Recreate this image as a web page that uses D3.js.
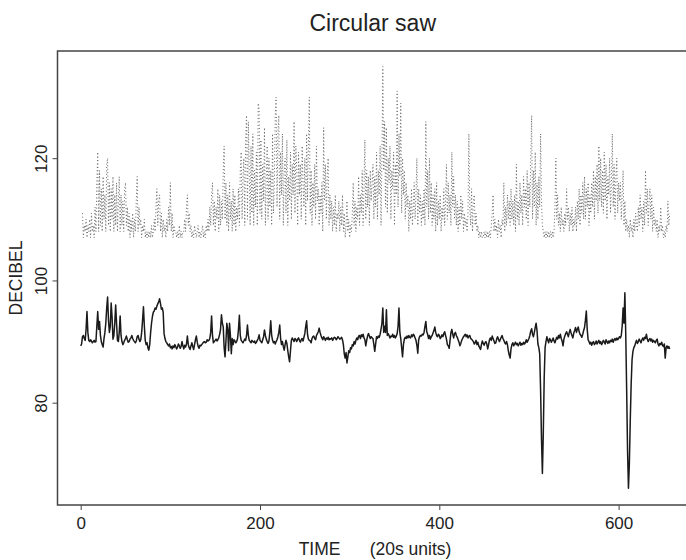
<!DOCTYPE html>
<html>
<head>
<meta charset="utf-8">
<script src="https://cdn.jsdelivr.net/npm/d3@7"></script>
<style>
  body { margin: 0; background: #fff; }
  text { font-family: "Liberation Sans", Arial, sans-serif; fill: #222; }
</style>
</head>
<body>
<div id="chart"></div>
<script>
var width = 686,
  height = 560;

// sound level of the circular saw, one value per time unit (20s)
var sawLevel = [
  89.3, 89.6, 90.8, 91, 90.5, 90.2, 92, 94.9, 91.5, 90.2, 90, 90.3, 90.1, 89.8, 90, 90.2, 89.9, 90, 92.5, 94.9,
  92, 93.3, 91, 90, 89.5, 89.1, 90.5, 91.5, 93, 95.5, 97.3, 93.5, 91.5, 92.5, 96.3, 94, 90.4, 91, 93, 96,
  93, 90.2, 90, 91.5, 94.2, 91, 90, 89.5, 89.8, 90.2, 90.5, 90.9, 90.3, 89.9, 90, 90.4, 90.6, 91, 90.5, 90.2,
  90, 89.8, 90.1, 90.8, 91, 90.4, 90, 90.3, 91.5, 93.5, 95.7, 92.5, 90.2, 89.5, 89.8, 89, 88.6, 89.5, 91.5, 93,
  94.1, 94.8, 95, 95.5, 95.3, 95.8, 96.2, 96.5, 97, 96.2, 95.3, 95.5, 94.8, 91.3, 90.5, 90, 89.8, 89.5, 89.3, 89.6,
  89, 89.2, 88.8, 89.3, 89, 89.5, 89.2, 88.8, 89.1, 89.6, 89.3, 88.9, 89.2, 90, 89.3, 88.8, 89.4, 89.1, 89.6, 90.9,
  89.5, 89, 88.7, 89.3, 89.8, 89.2, 88.7, 89.5, 90.3, 90.9, 89.9, 89.2, 88.9, 89.4, 89.3, 89.5, 89.7, 89.9, 90, 89.8,
  89.9, 90.3, 90.1, 90.2, 90.5, 91.5, 94.2, 91, 89.8, 90, 90.2, 90.4, 90.1, 90.3, 90.6, 91.2, 92, 94.4, 93, 92.4,
  89, 87.5, 90, 93, 92, 88.5, 93, 91, 88, 90.5, 89.5, 90.3, 90.1, 89.8, 90, 90.5, 92, 94.3, 91, 90.2,
  90, 89.8, 90.1, 90.4, 90.2, 91, 92.7, 91, 90.2, 90, 89.8, 90.2, 90, 89.9, 90.1, 89.7, 89.9, 90.2, 90.5, 91.1,
  90.2, 90, 89.8, 90.3, 90.8, 91.9, 91, 90.4, 90, 89.7, 90.1, 91.5, 93.4, 91, 90.2, 89.8, 90, 89.6, 90, 90.3,
  90.8, 91.5, 92.7, 90.5, 89.5, 90, 89.2, 88.6, 89.5, 90.2, 89.7, 88.5, 87.5, 86.7, 88.5, 90.2, 90.6, 90.3, 90, 90.5,
  90.3, 90, 90.4, 90.6, 90.2, 89.9, 90.3, 90.5, 90.1, 90.7, 91.3, 92.5, 93.4, 91.2, 90.4, 90.2, 90.1, 89.8, 90.5, 90.8,
  90.9, 90.5, 90.3, 91, 91.3, 91.6, 92.2, 91.5, 91, 90.6, 90.3, 90.8, 90.5, 90.2, 90.6, 90.4, 90.7, 90.3, 90.5, 90.4,
  90.6, 90.2, 90.5, 90.7, 90.6, 90.3, 90.5, 90.8, 90.6, 90.4, 90.5, 90.7, 90.3, 89.5, 88, 87.3, 88.2, 86.5, 87.5, 88.5,
  88.2, 89, 88.8, 89.5, 89.3, 90, 89.6, 90.2, 90.6, 90.3, 90.9, 91, 90.5, 91.1, 90.8, 91.2, 90.6, 90.3, 89.3, 90.2,
  90.9, 91.3, 90.9, 90.5, 90.8, 90.6, 90.5, 89.5, 88.4, 89.6, 90.8, 90.5, 90.9, 90.7, 91.2, 92, 93, 95.5, 91.5, 92.5,
  91.5, 95.2, 91, 91.3, 91, 90.6, 90.9, 90.8, 91.2, 90.7, 91, 90.6, 90.9, 91.3, 92.5, 95.5, 91.5, 90.5, 89, 87.5,
  89.5, 90.4, 90.7, 90.5, 90.9, 90.6, 91, 90.7, 90.6, 91.1, 90.8, 91.2, 91, 90.6, 90.2, 89.4, 88.1, 90.3, 90.8, 91,
  90.9, 91.2, 91.1, 91.5, 92.5, 93.3, 91.6, 91.2, 90.5, 91, 90.4, 90.8, 91, 91.4, 91.8, 92.4, 91.5, 91, 90.8, 91.2,
  91, 90.5, 90.7, 91.1, 90.8, 91.3, 91.6, 91, 90.4, 89.5, 89.3, 88.9, 90.2, 91.5, 92, 91.2, 90.6, 91.3, 91.5, 91,
  90.7, 90.3, 89.9, 89.3, 89.7, 90.2, 90.5, 90.8, 91, 91.2, 90.8, 91.1, 90.6, 90.9, 91, 90.5, 90.4, 90.2, 90, 89.6,
  89.8, 90.2, 89.5, 89.9, 89.3, 89, 88.7, 89.5, 90.1, 89.7, 89.4, 89.8, 90, 89.6, 88.8, 89.5, 90.3, 90.6, 90.2, 90.9,
  90.5, 90.1, 89.7, 89.8, 90.4, 90.8, 90.4, 90, 90.3, 90.7, 91, 90.5, 90.2, 89.8, 89.6, 90, 89.5, 88.5, 87.8, 87.3,
  88.8, 89.5, 89.8, 89.3, 89.6, 89.9, 89.5, 89.7, 89.3, 89.6, 89.9, 89.4, 89.7, 89.5, 89.9, 89.6, 89.8, 90.3, 89.9, 90.2,
  90.5, 91, 91.7, 92.1, 91.2, 90.8, 91.5, 92.3, 93, 91.8, 89.6, 89, 88, 82, 74, 68.4, 75, 84, 89, 90,
  90.8, 90.2, 89.8, 90.5, 90.3, 89.9, 90.2, 90.6, 90.1, 89.8, 90.3, 90.7, 90.4, 91, 90.6, 91.2, 90.5, 90.1, 89.3, 90.4,
  90.9, 91.3, 91.6, 91.2, 90.8, 91.5, 92, 91.4, 91, 90.6, 91.4, 91.8, 92.3, 91.5, 92, 92.4, 91.6, 91.2, 91, 90.7,
  91.2, 91.8, 92.3, 93.5, 95, 92, 90.3, 90, 89.6, 89.9, 89.4, 89.8, 90, 89.5, 89.7, 90.1, 89.6, 89.9, 90.2, 89.7,
  90, 89.5, 89.8, 90.2, 89.9, 89.6, 90.3, 90, 89.7, 90.1, 89.8, 90.2, 90, 90.4, 89.9, 90.3, 90.5, 90.2, 90.6, 90.3,
  90.5, 90.8, 90.6, 91, 92.5, 95.5, 93, 98, 91, 82, 72, 66, 70, 77, 83, 87, 88.4, 89, 89.3, 89.8,
  90.2, 89.7, 90, 90.4, 90.1, 89.8, 90.3, 90.6, 90.2, 90.7, 90.5, 91.2, 90.4, 90, 90.3, 90.5, 90.1, 90.4, 89.9, 90.2,
  90, 89.8, 90.2, 90.4, 89.6, 89.3, 89.7, 89.5, 89.9, 89.4, 89.2, 89.6, 87.3, 89, 89.3, 88.9, 89.2, 88.8
];

// peak level series (dotted), starts at time 2
var peakStart = 2;
var peakLevel = [
  111, 107, 109, 108, 110, 107, 109, 108, 110, 107, 111, 108, 109, 107, 112, 108, 116, 121, 108, 118,
  109, 115, 108, 117, 110, 114, 108, 119, 120, 109, 116, 108, 115, 110, 117, 108, 114, 109, 116, 108,
  113, 117, 108, 114, 109, 113, 108, 115, 116, 109, 112, 108, 111, 107, 110, 108, 111, 107, 110, 108,
  113, 117, 108, 112, 109, 110, 107, 109, 108, 110, 107, 108, 107, 108, 107, 108, 107, 109, 107, 108,
  110, 108, 112, 115, 109, 113, 114, 108, 111, 107, 110, 108, 109, 107, 110, 108, 112, 109, 116, 108,
  111, 107, 109, 108, 108, 107, 108, 107, 109, 107, 108, 107, 108, 108, 110, 108, 112, 114, 109, 111,
  108, 109, 107, 108, 107, 109, 108, 107, 108, 109, 107, 108, 107, 108, 109, 107, 108, 107, 109, 108,
  110, 108, 112, 109, 114, 116, 109, 113, 108, 112, 110, 115, 108, 114, 109, 113, 110, 118, 122, 110,
  116, 109, 114, 108, 116, 110, 113, 108, 115, 109, 114, 108, 112, 110, 115, 109, 118, 121, 110, 117,
  120, 109, 123, 127, 110, 126, 118, 109, 122, 111, 124, 109, 118, 112, 121, 109, 129, 128, 111, 123,
  110, 119, 113, 125, 109, 117, 122, 110, 120, 112, 118, 109, 124, 111, 116, 127, 130, 112, 124, 127,
  110, 121, 114, 124, 109, 118, 120, 111, 123, 109, 117, 113, 121, 110, 119, 114, 126, 111, 122, 118,
  109, 121, 114, 119, 110, 122, 116, 112, 120, 109, 124, 113, 122, 130, 111, 118, 109, 116, 112, 119,
  110, 122, 113, 115, 109, 114, 111, 116, 108, 125, 113, 119, 110, 117, 120, 109, 114, 110, 113, 108,
  112, 109, 114, 108, 111, 110, 113, 108, 112, 109, 114, 108, 111, 107, 109, 113, 108, 110, 107, 109,
  108, 111, 116, 109, 113, 108, 112, 110, 117, 109, 114, 111, 118, 109, 115, 123, 110, 118, 112, 117,
  109, 118, 113, 116, 119, 110, 117, 112, 121, 110, 118, 114, 122, 109, 120, 135, 118, 126, 112, 125,
  111, 120, 116, 122, 110, 118, 115, 121, 109, 119, 114, 131, 112, 124, 117, 129, 111, 120, 114, 118,
  110, 116, 112, 114, 108, 113, 110, 115, 109, 112, 116, 110, 114, 120, 109, 115, 111, 114, 109, 113,
  110, 115, 109, 126, 112, 118, 110, 120, 111, 116, 109, 114, 110, 115, 108, 116, 109, 113, 110, 114,
  108, 112, 110, 115, 109, 113, 119, 110, 116, 111, 114, 109, 121, 112, 117, 110, 114, 109, 113, 108,
  112, 109, 114, 110, 113, 108, 111, 109, 110, 108, 111, 124, 112, 109, 115, 108, 113, 114, 109, 111,
  108, 109, 107, 108, 107, 108, 107, 107, 108, 107, 108, 107, 108, 107, 108, 107, 109, 111, 114, 108,
  110, 108, 109, 107, 110, 108, 109, 107, 110, 109, 116, 108, 112, 109, 114, 110, 113, 109, 115, 110,
  113, 109, 114, 108, 119, 110, 113, 109, 116, 111, 114, 109, 117, 112, 115, 110, 118, 109, 116, 112,
  120, 127, 110, 118, 112, 121, 109, 116, 110, 117, 112, 124, 113, 109, 108, 107, 108, 107, 108, 107,
  108, 107, 108, 107, 108, 107, 108, 112, 120, 110, 114, 109, 111, 108, 112, 109, 110, 108, 111, 109,
  115, 110, 112, 108, 111, 109, 112, 108, 110, 109, 112, 108, 113, 110, 115, 109, 114, 111, 116, 110,
  117, 110, 115, 112, 116, 109, 114, 111, 116, 112, 118, 110, 117, 113, 119, 111, 122, 113, 120, 112,
  118, 111, 121, 113, 119, 110, 117, 114, 120, 111, 116, 124, 112, 119, 110, 117, 120, 111, 116, 113,
  116, 110, 114, 118, 109, 113, 108, 110, 108, 109, 107, 110, 108, 109, 107, 110, 108, 111, 109, 108,
  112, 109, 114, 110, 112, 108, 113, 109, 118, 111, 115, 109, 113, 115, 110, 114, 108, 112, 109, 110,
  108, 110, 107, 109, 108, 112, 108, 109, 107, 108, 107, 109, 108, 113, 109, 111
];

var xTicks = [0, 200, 400, 600];
var yTicks = [80, 100, 120];

var titleText = 'Circular saw';
var xLabel = 'TIME      (20s units)';
var yLabel = 'DECIBEL';

// plot box (right side runs off the picture)
var box = { left: 57.5, top: 51, right: 688, bottom: 505 };

var x = d3.scaleLinear().domain([0, 600]).range([80.7, 618.6]);
var y = d3.scaleLinear().domain([80, 120]).range([402.7, 158.2]);

var svg = d3
  .select('#chart')
  .append('svg')
  .attr('width', width)
  .attr('height', height);

// dotted series first, solid on top
var peakLine = d3.line()
  .x(function(d, i) { return x(i + peakStart); })
  .y(function(d) { return y(d); });

svg.append('path')
  .datum(peakLevel)
  .attr('d', peakLine)
  .attr('fill', 'none')
  .attr('stroke', '#666')
  .attr('stroke-width', 1)
  .attr('stroke-dasharray', '1,2.4');

var sawLine = d3.line()
  .x(function(d, i) { return x(i); })
  .y(function(d) { return y(d); });

svg.append('path')
  .datum(sawLevel)
  .attr('d', sawLine)
  .attr('fill', 'none')
  .attr('stroke', '#1a1a1a')
  .attr('stroke-width', 1.5)
  .attr('stroke-linejoin', 'round');

// frame
svg.append('rect')
  .attr('x', box.left)
  .attr('y', box.top)
  .attr('width', box.right - box.left)
  .attr('height', box.bottom - box.top)
  .attr('fill', 'none')
  .attr('stroke', '#444')
  .attr('stroke-width', 1.5);

// axes
var xAxis = d3.axisBottom(x).tickValues(xTicks).tickSize(5).tickPadding(7);
var gx = svg.append('g')
  .attr('transform', 'translate(0,' + box.bottom + ')')
  .call(xAxis);
gx.select('.domain').remove();
gx.selectAll('line').attr('stroke', '#444');
gx.selectAll('text')
  .attr('fill', '#222')
  .style('font-size', '17px')
  .style('font-family', '"Liberation Sans", Arial, sans-serif');

var yAxis = d3.axisLeft(y).tickValues(yTicks).tickSize(5).tickFormat(d3.format('d'));
var gy = svg.append('g')
  .attr('transform', 'translate(' + box.left + ',0)')
  .call(yAxis);
gy.select('.domain').remove();
gy.selectAll('line').attr('stroke', '#444');
gy.selectAll('text')
  .attr('x', 0)
  .attr('dy', 0)
  .attr('transform', 'translate(-11,0) rotate(-90)')
  .attr('text-anchor', 'middle')
  .attr('fill', '#222')
  .style('font-size', '17px')
  .style('font-family', '"Liberation Sans", Arial, sans-serif');

// labels
var plotMid = (box.left + box.right) / 2;

svg.append('text')
  .attr('x', plotMid)
  .attr('y', 31)
  .attr('text-anchor', 'middle')
  .style('font-size', '23px')
  .text(titleText);

svg.append('text')
  .attr('x', 375)
  .attr('y', 555)
  .attr('text-anchor', 'middle')
  .style('font-size', '17.5px')
  .style('white-space', 'pre')
  .text(xLabel);

svg.append('text')
  .attr('transform', 'translate(21.5,' + ((box.top + box.bottom) / 2) + ') rotate(-90)')
  .attr('text-anchor', 'middle')
  .style('font-size', '17.5px')
  .text(yLabel);
</script>
</body>
</html>
